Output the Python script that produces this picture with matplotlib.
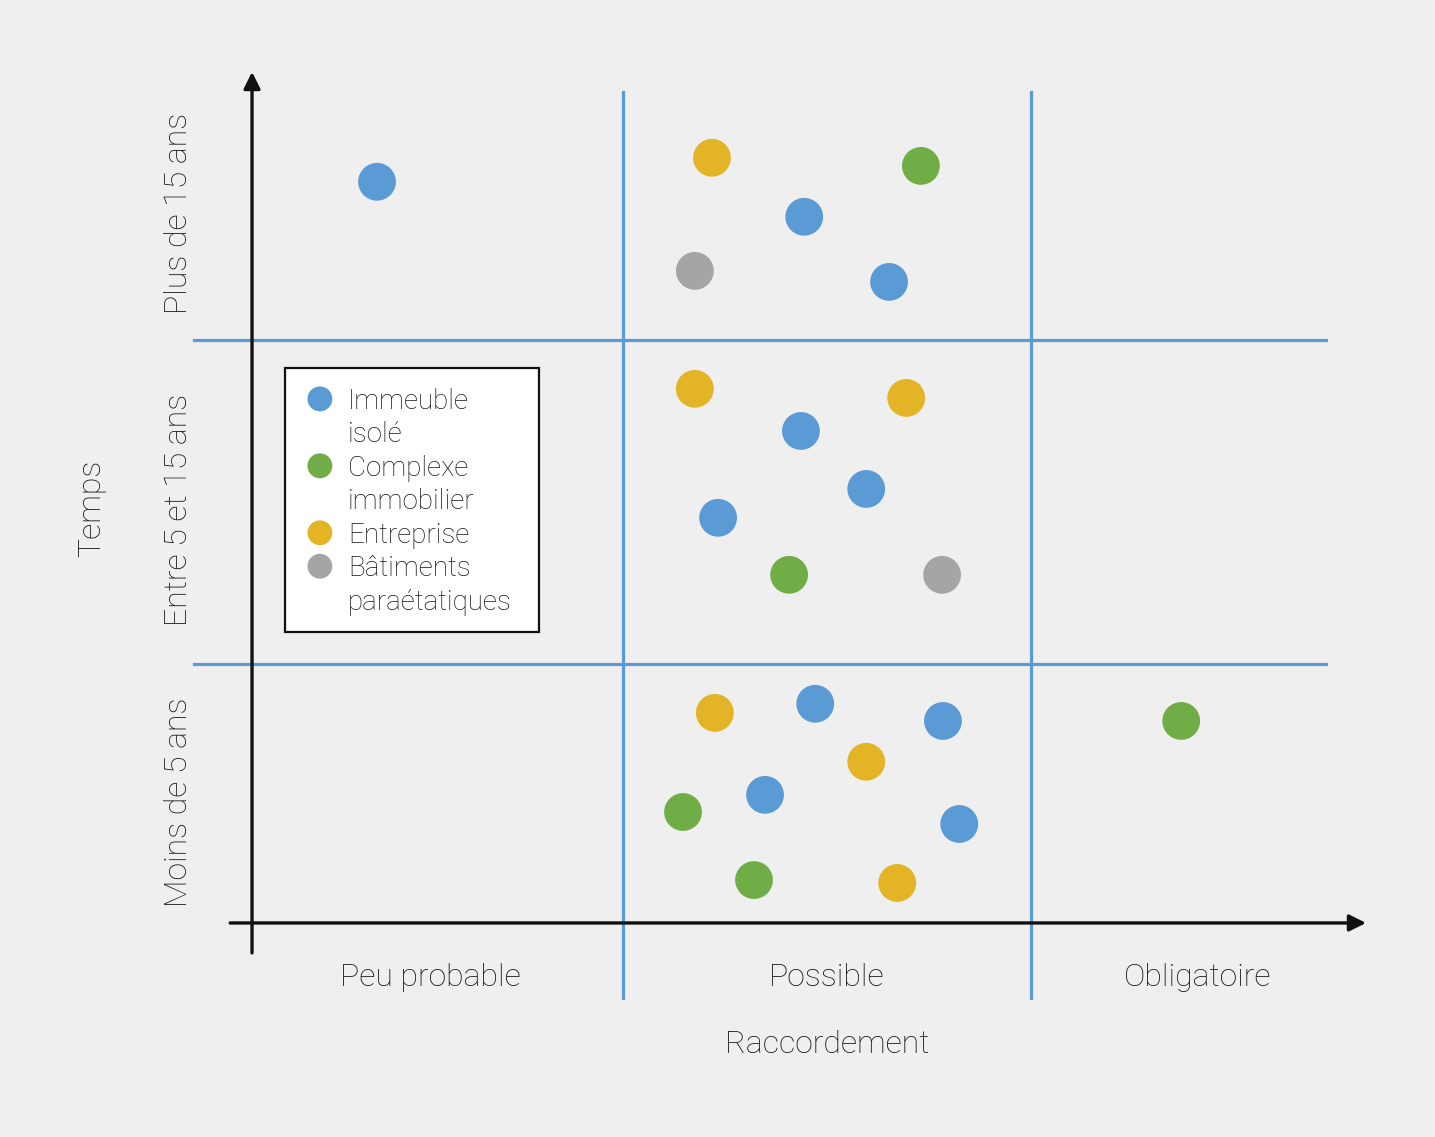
import matplotlib.pyplot as plt
from matplotlib.patches import Rectangle

plt.rcParams["font.family"] = ["Roboto", "DejaVu Sans"]

# categories and labels
x_labels = ["Peu probable", "Possible", "Obligatoire"]
y_labels = ["Moins de 5 ans", "Entre 5 et 15 ans", "Plus de 15 ans"]
types = ["Immeuble\nisolé", "Complexe\nimmobilier", "Entreprise", "Bâtiments\nparaétatiques"]
colors = ["#5b9bd5", "#70ad47", "#e3b425", "#a5a5a5"]

# points, one list per type (x: raccordement, y: temps; columns/rows are 1 unit wide)
immeuble_x = [0.397, 1.444, 1.652, 1.436, 1.596, 1.233, 1.471, 1.784, 1.348, 1.824]
immeuble_y = [2.488, 2.380, 2.179, 1.719, 1.540, 1.451, 0.877, 0.824, 0.596, 0.506]
complexe_x = [1.730, 1.407, 2.368, 1.147, 1.321]
complexe_y = [2.537, 1.275, 0.824, 0.543, 0.333]
entreprise_x = [1.218, 1.176, 1.694, 1.225, 1.596, 1.672]
entreprise_y = [2.562, 1.849, 1.821, 0.849, 0.698, 0.324]
batiments_x = [1.176, 1.782]
batiments_y = [2.213, 1.275]

series = [
    (immeuble_x, immeuble_y),
    (complexe_x, complexe_y),
    (entreprise_x, entreprise_y),
    (batiments_x, batiments_y),
]

bg = "#efefef"
grid_c = "#5b9bd5"
ink = "#111111"
text_c = "#151515"
fw = "light"

fig = plt.figure(figsize=(14.35, 11.37), dpi=100, facecolor=bg)
ax = fig.add_axes([0, 0, 1, 1])
ax.set_facecolor(bg)
ax.set_xlim(-0.527, 2.990)
ax.set_ylim(-0.460, 3.049)
ax.axis("off")

# grid of zones
for xv in [1, 2]:
    ax.plot([xv, xv], [-0.031, 2.765], color=grid_c, lw=2.3, zorder=1)
for yv in [1, 2]:
    ax.plot([-0.051, 2.723], [yv, yv], color=grid_c, lw=2.3, zorder=1)

# axes with arrows
ax.annotate("", xy=(2.821, 0.2006), xytext=(0.037, 0.2006),
            arrowprops=dict(arrowstyle="-|>,head_length=1.0,head_width=0.5",
                            color=ink, lw=2.4, shrinkA=0, shrinkB=0), zorder=2)
ax.annotate("", xy=(0.0907, 2.827), xytext=(0.0907, 0.108),
            arrowprops=dict(arrowstyle="-|>,head_length=1.0,head_width=0.5",
                            color=ink, lw=2.4, shrinkA=0, shrinkB=0), zorder=2)

# points
for (xs, ys), c in zip(series, colors):
    ax.scatter(xs, ys, s=740, color=c, edgecolors="none", zorder=3)

# category labels
col_centers = [0.528, 1.5, 2.407]
for xc, lab in zip(col_centers, x_labels):
    ax.text(xc, 0.031, lab, ha="center", va="center", fontsize=23,
            fontweight=fw, color=text_c)
ax.text(1.5, -0.175, "Raccordement", ha="center", va="center", fontsize=23,
        fontweight=fw, color=text_c)

row_centers = [0.574, 1.475, 2.392]
for yc, lab in zip(row_centers, y_labels):
    ax.text(-0.090, yc, lab, ha="center", va="center", rotation=90,
            fontsize=23, fontweight=fw, color=text_c)
ax.text(-0.303, 1.481, "Temps", ha="center", va="center", rotation=90,
        fontsize=23, fontweight=fw, color=text_c)

# legend box drawn by hand so markers sit on the first line of each label
ax.add_patch(Rectangle((0.172, 1.099), 0.622, 0.815, facecolor="white",
                       edgecolor=ink, lw=1.6, zorder=4))
line_step = 0.1033
y_cur = 1.818
for lab, c in zip(types, colors):
    ax.scatter([0.257], [y_cur], s=320, color=c, edgecolors="none", zorder=5)
    for i, part in enumerate(lab.split("\n")):
        ax.text(0.326, y_cur - i * line_step - 0.008, part, ha="left", va="center",
                fontsize=20, fontweight=fw, color=text_c, zorder=5)
    y_cur -= line_step * len(lab.split("\n"))

fig.savefig("out.png", dpi=100, facecolor=bg)
